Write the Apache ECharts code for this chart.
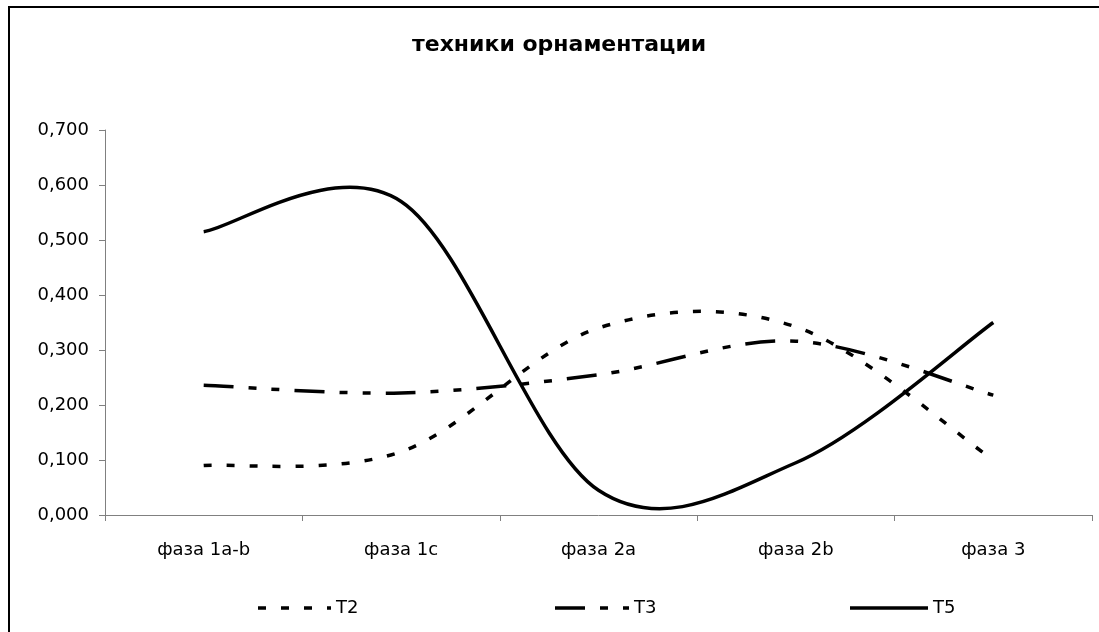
<!DOCTYPE html>
<html>
<head>
<meta charset="utf-8">
<script src="https://cdn.jsdelivr.net/npm/echarts@6/dist/echarts.min.js"></script>
<style>
html,body{margin:0;padding:0;background:#fff;}
#c{width:1099px;height:632px;}
</style>
</head>
<body>
<div id="c"></div>
<script>
const titleText = 'техники орнаментации';
const categories = ['фаза 1a-b', 'фаза 1c', 'фаза 2a', 'фаза 2b', 'фаза 3'];
const seriesNames = ['T2', 'T3', 'T5'];
const t2 = [0.090, 0.115, 0.340, 0.342, 0.100];
const t3 = [0.236, 0.222, 0.255, 0.316, 0.218];
const t5 = [0.515, 0.570, 0.045, 0.095, 0.350];
const yTicks = { min: 0, max: 0.7, interval: 0.1 };

const font = 'DejaVu Sans';
const chart = echarts.init(document.getElementById('c'), null, { renderer: 'canvas' });

const lineW = 3.5;
const dashes = {
  T2: [8, 15],
  T3: [30, 15, 8, 15, 8, 15],
  T5: null
};

// Excel-like smoothed line (Catmull-Rom, tension 1/6), drawn through the axis scales via api.coord
function smoothRender(values, dash) {
  return function (params, api) {
    if (params.dataIndex !== 0) return null;
    const pts = values.map((v, i) => api.coord([i, v]));
    let d = 'M' + pts[0][0] + ' ' + pts[0][1];
    for (let i = 0; i < pts.length - 1; i++) {
      const p0 = pts[i - 1] || pts[i];
      const p1 = pts[i];
      const p2 = pts[i + 1];
      const p3 = pts[i + 2] || pts[i + 1];
      const c1x = p1[0] + (p2[0] - p0[0]) / 6;
      const c1y = p1[1] + (p2[1] - p0[1]) / 6;
      const c2x = p2[0] - (p3[0] - p1[0]) / 6;
      const c2y = p2[1] - (p3[1] - p1[1]) / 6;
      d += ' C' + c1x + ' ' + c1y + ' ' + c2x + ' ' + c2y + ' ' + p2[0] + ' ' + p2[1];
    }
    return {
      type: 'path',
      shape: { pathData: d },
      style: { stroke: '#000', fill: 'none', lineWidth: lineW, lineDash: dash || null, lineCap: 'butt', lineJoin: 'round' }
    };
  };
}

function makeSeries(name, values) {
  return {
    name: name, type: 'custom',
    data: values.map((v, i) => [i, v]),
    encode: { x: 0, y: 1 },
    renderItem: smoothRender(values, dashes[name]),
    clip: false
  };
}

const legendPos = [
  { left: 258, width: 73 },
  { left: 555, width: 74 },
  { left: 850, width: 78 }
];
const legendY = 608;
const legendGraphics = [];
seriesNames.forEach((n, i) => {
  const p = legendPos[i];
  legendGraphics.push({
    type: 'line', shape: { x1: p.left, y1: legendY, x2: p.left + p.width, y2: legendY },
    style: { stroke: '#000', lineWidth: lineW, lineDash: dashes[n] || null }, silent: true
  });
  legendGraphics.push({
    type: 'text', x: p.left + p.width + 5, y: legendY,
    style: { text: n, fontFamily: font, fontSize: 18, fill: '#000', verticalAlign: 'middle', align: 'left' },
    silent: true
  });
});

chart.setOption({
  backgroundColor: '#fff',
  animation: false,
  title: {
    text: titleText, left: 412, top: 34, padding: 0,
    textStyle: { fontFamily: font, fontWeight: 'bold', fontSize: 22, color: '#000' }
  },
  grid: { left: 105, right: 7, top: 130, bottom: 117, containLabel: false },
  xAxis: {
    type: 'category', data: categories, boundaryGap: true,
    axisLine: { lineStyle: { color: '#808080', width: 1 } },
    axisTick: { show: true, length: 6, inside: false, alignWithLabel: false, lineStyle: { color: '#808080' } },
    axisLabel: { fontFamily: font, fontSize: 18, color: '#000', margin: 26, interval: 0 },
    splitLine: { show: false }
  },
  yAxis: {
    type: 'value', min: yTicks.min, max: yTicks.max, interval: yTicks.interval,
    axisLine: { show: true, lineStyle: { color: '#808080', width: 1 } },
    axisTick: { show: true, length: 6, lineStyle: { color: '#808080' } },
    axisLabel: {
      fontFamily: font, fontSize: 18, color: '#000', margin: 16,
      formatter: v => v.toFixed(3).replace('.', ',')
    },
    splitLine: { show: false }
  },
  graphic: [{
    type: 'rect', shape: { x: 9, y: 7, width: 1200, height: 700 },
    style: { fill: 'none', stroke: '#000', lineWidth: 2 }, silent: true, z: 100
  }].concat(legendGraphics),
  series: [
    makeSeries(seriesNames[0], t2),
    makeSeries(seriesNames[1], t3),
    makeSeries(seriesNames[2], t5)
  ]
});
</script>
</body>
</html>
